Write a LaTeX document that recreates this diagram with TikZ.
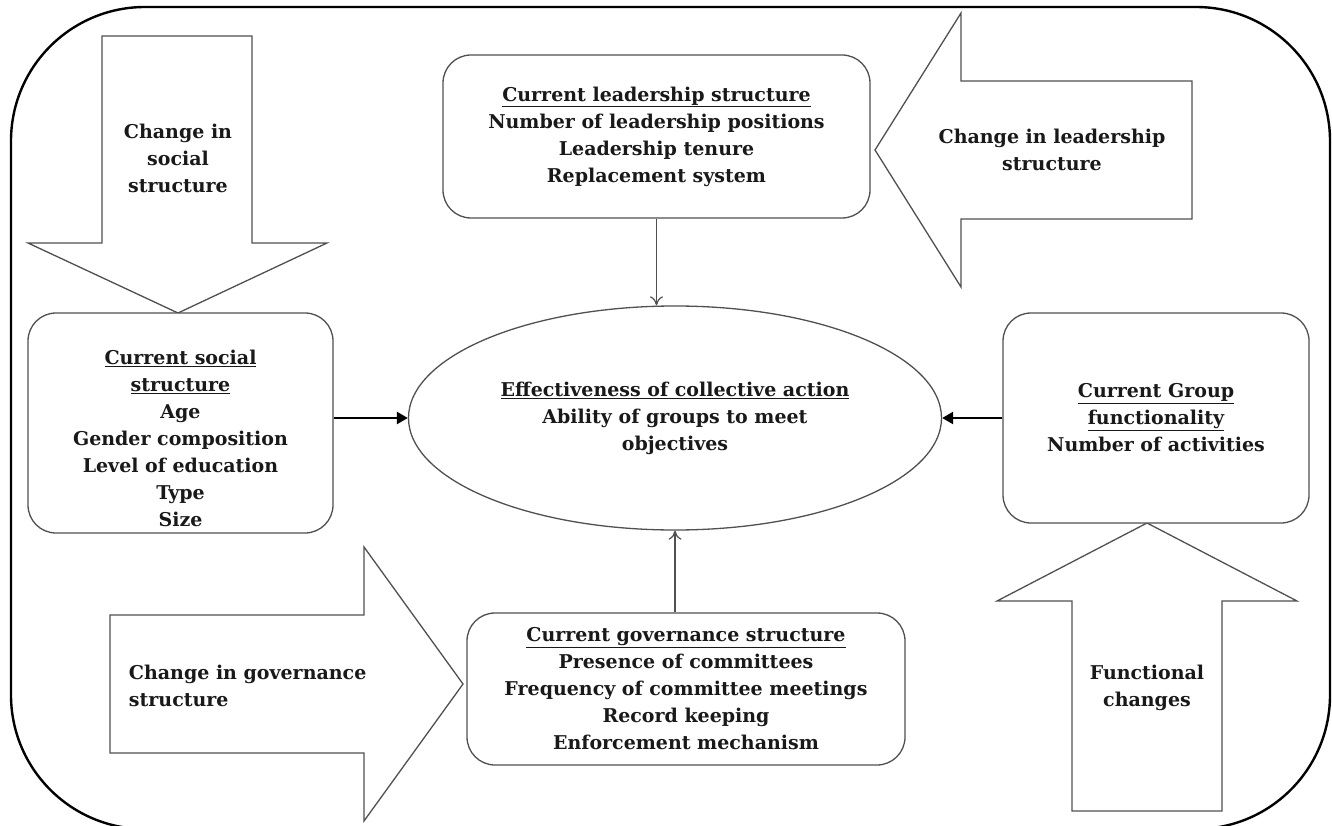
\documentclass[tikz,border=0pt]{standalone}
\usepackage{fontspec}
\setmainfont{DejaVu Serif}
\usepackage{tikz}
\usetikzlibrary{arrows.meta,positioning,shapes.geometric}
\definecolor{boxgray}{RGB}{80,80,80}
\definecolor{inkblack}{RGB}{25,25,25}

\begin{document}
\begin{tikzpicture}[x=1pt, y=-1pt, line width=1.3pt,
  font=\fontsize{19}{27}\selectfont\bfseries, text=inkblack,
  box/.style={draw=boxgray, fill=white, rounded corners=28pt, align=center, inner sep=0pt},
  blockarrow/.style={draw=boxgray, fill=white, line join=miter},
  link/.style={draw=boxgray, line width=1.2pt, -{To[length=9pt,width=13pt]}},
  boldlink/.style={draw=black, line width=2.4pt, -{Triangle[length=11pt,width=12pt]}}]
\useasboundingbox (0,0) rectangle (1332,826);
\draw[line width=2.4pt, rounded corners=134pt] (11,7) rectangle (1330,829);

% change arrows
\draw[blockarrow] (102,36) -- (252,36) -- (252,243) -- (327,243) -- (178,313) -- (28,243) -- (102,243) -- cycle;
\node[align=center] (socialchg) at (178,158) {Change in\\social\\structure};
\draw[blockarrow] (875,150) -- (961,13) -- (961,81) -- (1192,81) -- (1192,219) -- (961,219) -- (961,287) -- cycle;
\node[align=center] (leaderchg) at (1052,150) {Change in leadership\\structure};
\draw[blockarrow] (110,615) -- (364,615) -- (364,547) -- (463,684) -- (364,821) -- (364,753) -- (110,753) -- cycle;
\node[align=left, anchor=west] (governchg) at (125,686) {Change in governance\\structure};
\draw[blockarrow] (1147,523) -- (1297,601) -- (1222,601) -- (1222,811) -- (1072,811) -- (1072,601) -- (997,601) -- cycle;
\node[align=center] (groupchg) at (1147,688) {Functional\\changes};

% current state boxes
\node[box, minimum width=305pt, minimum height=220pt] (social) at (180.5,423) {};
\node[align=center] (socialtxt) at (180.5,438) {\underline{Current social}\\\underline{structure}\\Age\\Gender composition\\Level of education\\Type\\Size};
\node[box, minimum width=427pt, minimum height=163pt] (leader) at (656.5,136.5)
  {\underline{Current leadership structure}\\Number of leadership positions\\Leadership tenure\\Replacement system};
\node[box, minimum width=306pt, minimum height=210pt] (group) at (1156,418)
  {\underline{Current Group}\\\underline{functionality}\\Number of activities};
\node[box, minimum width=438pt, minimum height=152pt] (govern) at (686,689)
  {\underline{Current governance structure}\\Presence of committees\\Frequency of committee meetings\\Record keeping\\Enforcement mechanism};
\node[ellipse, draw=boxgray, inner sep=0pt, minimum width=533pt, minimum height=224pt, align=center] (effect) at (675,418)
  {\underline{Effectiveness of collective action}\\Ability of groups to meet\\objectives};

\draw[boldlink] (social.east |- effect) -- (effect.west);
\draw[boldlink] (group.west) -- (effect.east);
\draw[link] (leader.south) -- (leader.south |- effect.north);
\draw[link] (govern.north -| effect.south) -- (effect.south);
\end{tikzpicture}
\end{document}
